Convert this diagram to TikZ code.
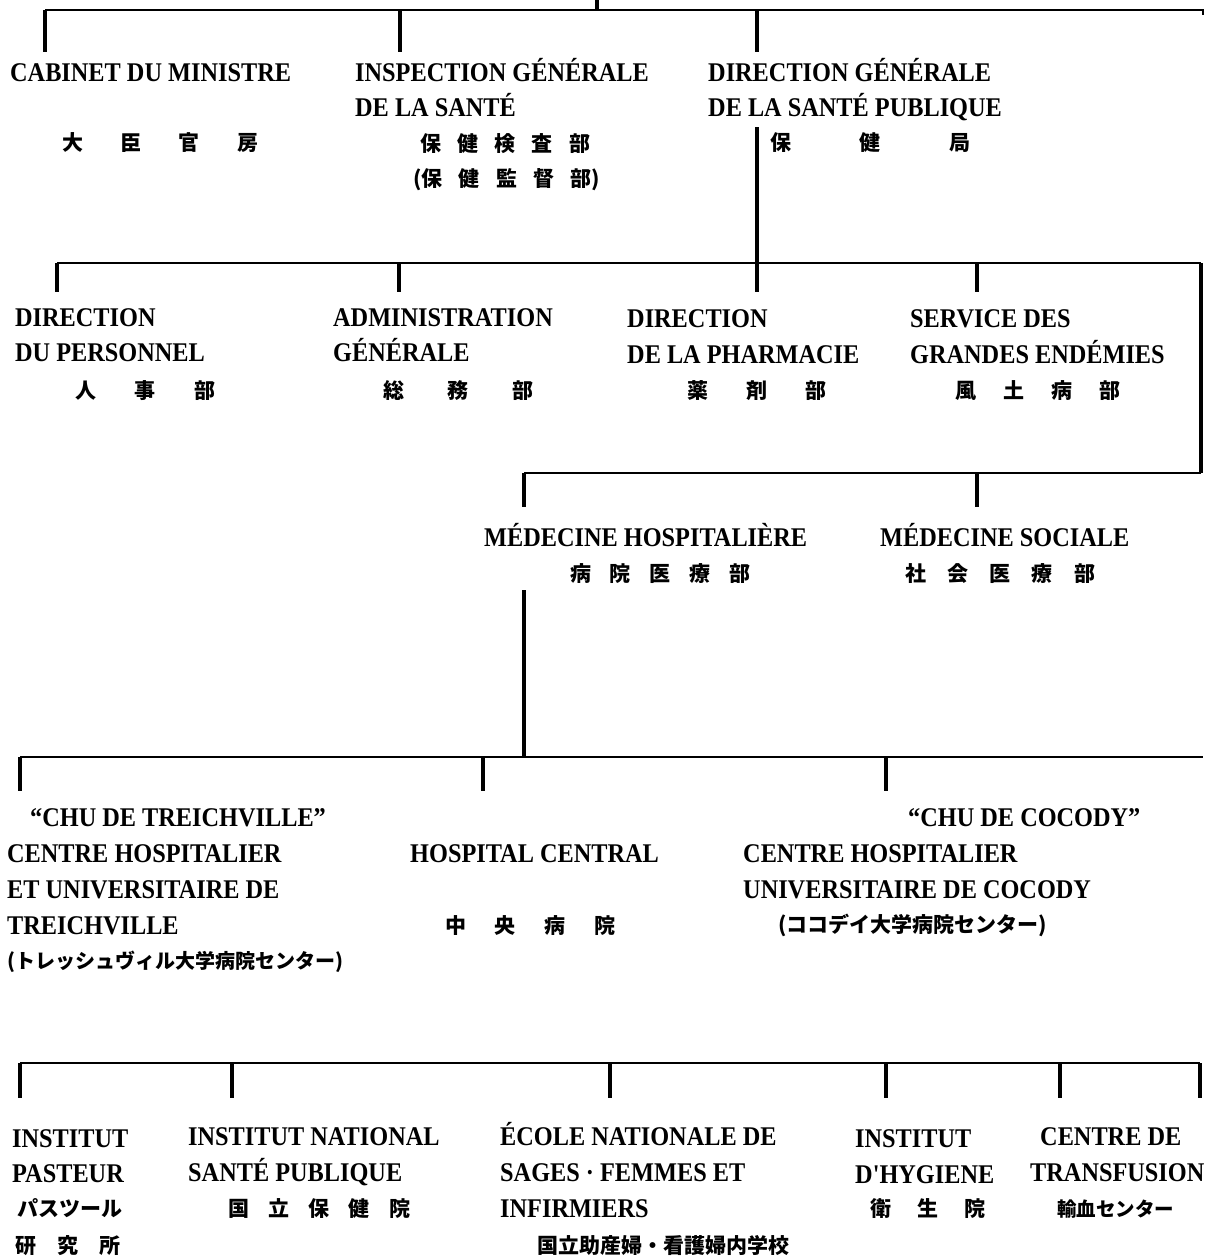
\documentclass[tikz,border=0pt]{standalone}
\usepackage{fontspec}
\newfontfamily\lab{Liberation Serif}[FakeStretch=0.9]
\newfontfamily\jpf{Noto Sans CJK JP}
\newcommand\spr[2]{\makebox[#1][s]{#2}}
\begin{document}
\begin{tikzpicture}[x=1pt,y=-1pt,
  ln/.style={line width=3.4pt},
  hl/.style={line width=2.4pt},
  fr/.style={anchor=base west, inner sep=0pt, font=\lab\fontsize{27}{27}\selectfont\bfseries},
  jp/.style={anchor=base west, inner sep=0pt, font=\jpf\fontsize{21}{21}\selectfont\bfseries},
  jps/.style={anchor=base west, inner sep=0pt, font=\jpf\fontsize{19.5}{20}\selectfont\bfseries}]
\useasboundingbox[fill=white] (0,0) rectangle (1219,1256);

% ---------- row 1 ----------
\node[fr] (cab) at (10,81) {CABINET DU MINISTRE};
\node[jp] (cabj) at (62,150) {\spr{196pt}{大\hfill 臣\hfill 官\hfill 房}};
\node[fr] (ins1) at (355,81) {INSPECTION GÉNÉRALE};
\node[fr] (ins2) at (355,116) {DE LA SANTÉ};
\node[jp] (insj1) at (420,151) {\spr{170pt}{保\hfill 健\hfill 検\hfill 査\hfill 部}};
\node[jp] (insj2) at (413,186) {\spr{187pt}{(保\hfill 健\hfill 監\hfill 督\hfill 部)}};
\node[fr] (dg1) at (708,81) {DIRECTION GÉNÉRALE};
\node[fr] (dg2) at (708,116) {DE LA SANTÉ PUBLIQUE};
\node[jp] (dgj) at (770,150) {\spr{200pt}{保\hfill 健\hfill 局}};

\coordinate (r1s) at (597,0);
\coordinate (r1m) at (597,10);
\coordinate (r1l) at (45,10);
\coordinate (r1r) at (1203,10);
\coordinate (r1re) at (1203,15);
\coordinate (r1a) at (45,52);
\coordinate (r1bt) at (400,10);
\coordinate (r1b) at (400,52);
\coordinate (r1ct) at (757,10);
\coordinate (r1c) at (757,52);
\draw[hl] (r1l) -- (r1r) -- (r1re);
\draw[ln] (r1s) -- (r1m);
\draw[ln] (r1l) -- (r1a);
\draw[ln] (r1bt) -- (r1b);
\draw[ln] (r1ct) -- (r1c);

% ---------- row 2 ----------
\coordinate (dgd) at (757,127);
\coordinate (r2l) at (57,263);
\coordinate (r2r) at (1201,263);
\coordinate (r2cd) at (757,292);
\coordinate (r2ad) at (57,292);
\coordinate (r2bt) at (399,263);
\coordinate (r2bd) at (399,292);
\coordinate (r2dt) at (977,263);
\coordinate (r2dd) at (977,292);
\draw[ln] (dgd) -- (r2cd);
\draw[hl] (r2l) -- (r2r);
\draw[ln] (r2l) -- (r2ad);
\draw[ln] (r2bt) -- (r2bd);
\draw[ln] (r2dt) -- (r2dd);

\node[fr] (dp1) at (15,326) {DIRECTION};
\node[fr] (dp2) at (15,361) {DU PERSONNEL};
\node[jp] (dpj) at (75,398) {\spr{140pt}{人\hfill 事\hfill 部}};
\node[fr] (ag1) at (333,326) {ADMINISTRATION};
\node[fr] (ag2) at (333,361) {GÉNÉRALE};
\node[jp] (agj) at (383,398) {\spr{150pt}{総\hfill 務\hfill 部}};
\node[fr] (ph1) at (627,327) {DIRECTION};
\node[fr] (ph2) at (627,363) {DE LA PHARMACIE};
\node[jp] (phj) at (687,398) {\spr{139pt}{薬\hfill 剤\hfill 部}};
\node[fr] (ge1) at (910,327) {SERVICE DES};
\node[fr] (ge2) at (910,363) {GRANDES ENDÉMIES};
\node[jp] (gej) at (955,398) {\spr{165pt}{風\hfill 土\hfill 病\hfill 部}};

% ---------- row 3 ----------
\coordinate (r3l) at (524,473);
\coordinate (r3r) at (1201,473);
\coordinate (r3ad) at (524,507);
\coordinate (r3bt) at (977,473);
\coordinate (r3bd) at (977,507);
\draw[ln] (r2r) -- (r3r);
\draw[hl] (r3r) -- (r3l);
\draw[ln] (r3l) -- (r3ad);
\draw[ln] (r3bt) -- (r3bd);

\node[fr] (mh) at (484,546) {MÉDECINE HOSPITALIÈRE};
\node[jp] (mhj) at (570,581) {\spr{180pt}{病\hfill 院\hfill 医\hfill 療\hfill 部}};
\node[fr] (ms) at (880,546) {MÉDECINE SOCIALE};
\node[jp] (msj) at (905,581) {\spr{190pt}{社\hfill 会\hfill 医\hfill 療\hfill 部}};

% ---------- row 4 ----------
\coordinate (mhd) at (524,590);
\coordinate (r4m) at (524,757);
\coordinate (r4l) at (20,757);
\coordinate (r4r) at (1203,757);
\coordinate (r4ad) at (20,791);
\coordinate (r4bt) at (483,757);
\coordinate (r4bd) at (483,791);
\coordinate (r4ct) at (886,757);
\coordinate (r4cd) at (886,791);
\draw[ln] (mhd) -- (r4m);
\draw[hl] (r4l) -- (r4r);
\draw[ln] (r4l) -- (r4ad);
\draw[ln] (r4bt) -- (r4bd);
\draw[ln] (r4ct) -- (r4cd);

\node[fr] (tr1) at (30,826) {“CHU DE TREICHVILLE”};
\node[fr] (tr2) at (7,862) {CENTRE HOSPITALIER};
\node[fr] (tr3) at (7,898) {ET UNIVERSITAIRE DE};
\node[fr] (tr4) at (7,934) {TREICHVILLE};
\node[jp, font=\jpf\fontsize{20}{20}\selectfont\bfseries] (trj) at (7,968) {(トレッシュヴィル大学病院センター)};
\node[fr] (hc) at (410,862) {HOSPITAL CENTRAL};
\node[jp] (hcj) at (445,933) {\spr{170pt}{中\hfill 央\hfill 病\hfill 院}};
\node[fr] (co1) at (908,826) {“CHU DE COCODY”};
\node[fr] (co2) at (743,862) {CENTRE HOSPITALIER};
\node[fr] (co3) at (743,898) {UNIVERSITAIRE DE COCODY};
\node[jp] (coj) at (778,932) {\spr{292pt}{(ココデイ大学病院センター)}};

% ---------- row 5 ----------
\coordinate (r5l) at (20,1063);
\coordinate (r5r) at (1200,1063);
\coordinate (r5a) at (20,1098);
\coordinate (r5bt) at (232,1063);
\coordinate (r5b) at (232,1098);
\coordinate (r5ct) at (610,1063);
\coordinate (r5c) at (610,1098);
\coordinate (r5dt) at (886,1063);
\coordinate (r5d) at (886,1098);
\coordinate (r5et) at (1060,1063);
\coordinate (r5e) at (1060,1098);
\coordinate (r5f) at (1200,1098);
\draw[hl] (r5l) -- (r5r);
\draw[ln] (r5l) -- (r5a);
\draw[ln] (r5r) -- (r5f);
\draw[ln] (r5bt) -- (r5b);
\draw[ln] (r5ct) -- (r5c);
\draw[ln] (r5dt) -- (r5d);
\draw[ln] (r5et) -- (r5e);

\node[fr] (ip1) at (12,1147) {INSTITUT};
\node[fr] (ip2) at (12,1182) {PASTEUR};
\node[jp] (ipj1) at (17,1216) {パスツール};
\node[jp] (ipj2) at (15,1253) {\spr{105pt}{研\hfill 究\hfill 所}};
\node[fr] (in1) at (188,1145) {INSTITUT NATIONAL};
\node[fr] (in2) at (188,1181) {SANTÉ PUBLIQUE};
\node[jp] (inj) at (228,1216) {\spr{182pt}{国\hfill 立\hfill 保\hfill 健\hfill 院}};
\node[fr] (ec1) at (500,1145) {ÉCOLE NATIONALE DE};
\node[fr] (ec2) at (500,1181) {SAGES · FEMMES ET};
\node[fr] (ec3) at (500,1217) {INFIRMIERS};
\node[jp] (ecj) at (537,1253) {国立助産婦・看護婦内学校};
\node[fr] (ih1) at (855,1147) {INSTITUT};
\node[fr] (ih2) at (855,1183) {D'HYGIENE};
\node[jp] (ihj) at (870,1216) {\spr{115pt}{衛\hfill 生\hfill 院}};
\node[fr] (ct1) at (1040,1145) {CENTRE DE};
\node[fr] (ct2) at (1030,1181) {TRANSFUSION};
\node[jps] (ctj) at (1057,1216) {輸血センター};
\end{tikzpicture}
\end{document}
